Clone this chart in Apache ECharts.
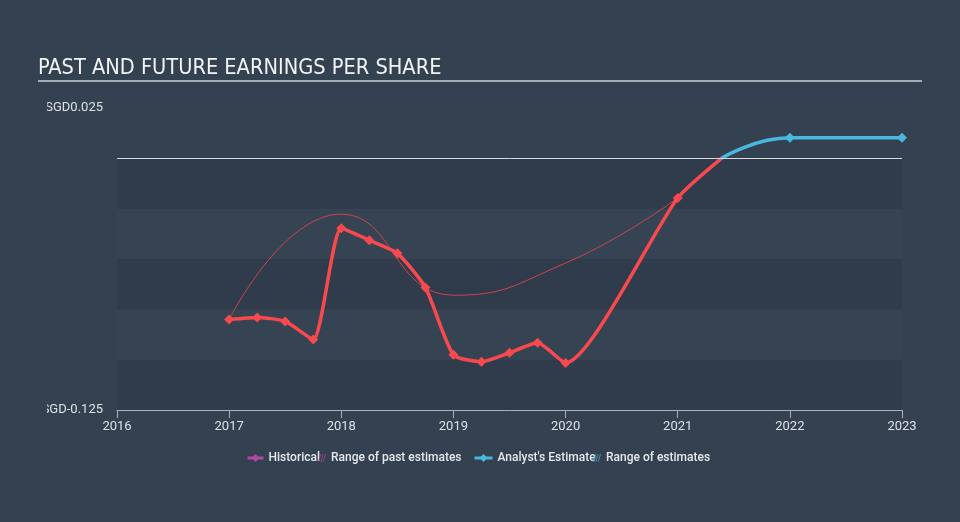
<!DOCTYPE html>
<html style="height: 100%">
<head>
    <meta charset="utf-8">
</head>
<body style="height: 100%; margin: 0; background: #344151;">
<div id="container" style="width: 960px; height: 522px;"></div>
<script type="text/javascript" src="https://cdn.jsdelivr.net/npm/echarts@6/dist/echarts.min.js"></script>
<script type="text/javascript">
// periods as decimal years
var histX = [2017, 2017.25, 2017.5, 2017.75, 2018, 2018.25, 2018.5, 2018.75, 2019, 2019.25, 2019.5, 2019.75, 2020, 2021, 2021.39];
var histY = [-0.080, -0.079, -0.081, -0.090, -0.0347, -0.0407, -0.0472, -0.0641, -0.0976, -0.101, -0.0966, -0.0916, -0.1016, -0.0197, 0.0];
var pastRangeX = [2017, 2018, 2019, 2020, 2021];
var pastRangeY = [-0.080, -0.0277, -0.068, -0.052, -0.0197];
var estX = [2021.39, 2022, 2023];
var estY = [0.0, 0.0102, 0.0102];
var yLabels = {'0.025': 'SGD0.025', '-0.125': 'SGD-0.125'};

var dom = document.getElementById("container");
var myChart = echarts.init(dom);

function pairs(xs, ys) {
    return xs.map(function (x, i) { return [x, ys[i]]; });
}

var histData = pairs(histX, histY).map(function (p, i) {
    // last point just joins the estimate line, no marker there
    return i === histX.length - 1 ? {value: p, symbol: 'none'} : p;
});
var estData = pairs(estX, estY).map(function (p, i) {
    return i === 0 ? {value: p, symbol: 'none'} : p;
});

var hatch = 'path://M0 10 L3 0 L4.2 0 L1.2 10 Z M3 10 L6 0 L7.2 0 L4.2 10 Z M6 10 L9 0 L10.2 0 L7.2 10 Z';
var legendText = {color: '#e6e9ec', fontSize: 12, fontFamily: 'Roboto', fontWeight: 500};
var bg = '#344151';

var option = {
    backgroundColor: bg,
    animation: false,
    title: {
        text: 'PAST AND FUTURE EARNINGS PER SHARE',
        left: 33,
        top: 52,
        textStyle: {color: '#f2f3f4', fontSize: 21.6, fontWeight: 'normal', fontFamily: "'DejaVu Sans Condensed', Roboto"}
    },
    graphic: [{
        type: 'rect',
        shape: {x: 38, y: 80, width: 884, height: 2},
        style: {fill: '#a4acb6'},
        silent: true
    }, {
        // the source crops the axis labels at the left
        type: 'rect',
        shape: {x: 0, y: 95, width: 47, height: 330},
        style: {fill: bg},
        silent: true,
        z: 100
    }],
    legend: [
        {left: 241, top: 447, itemWidth: 16, itemHeight: 10, textStyle: legendText,
         data: [{name: 'Historical', itemStyle: {color: '#b3479f'}, lineStyle: {color: '#b3479f', width: 3}}]},
        {left: 313, top: 447, itemWidth: 8, itemHeight: 9, textStyle: legendText,
         data: [{name: 'Range of past estimates', icon: hatch, itemStyle: {color: '#93408a'}}]},
        {left: 468, top: 447, itemWidth: 18, itemHeight: 10, textStyle: legendText,
         data: [{name: "Analyst's Estimate", itemStyle: {color: '#4ab7df'}, lineStyle: {color: '#4ab7df', width: 3}}]},
        {left: 588, top: 447, itemWidth: 8, itemHeight: 9, textStyle: legendText,
         data: [{name: 'Range of estimates', icon: hatch, itemStyle: {color: '#3f8fb5'}}]}
    ],
    grid: {left: 117, right: 58, top: 108, bottom: 112},
    xAxis: {
        type: 'value',
        min: 2016,
        max: 2023,
        interval: 1,
        axisLine: {onZero: false, lineStyle: {color: '#a9b2bc'}},
        axisTick: {show: true, length: 8, lineStyle: {color: '#a9b2bc'}},
        axisLabel: {color: '#dde1e5', fontSize: 13, margin: 10, fontFamily: 'Roboto',
            formatter: function (v) { return String(v); }},
        splitLine: {show: false}
    },
    yAxis: {
        type: 'value',
        min: -0.125,
        max: 0.025,
        interval: 0.025,
        axisLine: {show: false},
        axisTick: {show: false},
        axisLabel: {
            color: '#dde1e5', fontSize: 13, margin: 14, fontFamily: 'Roboto',
            formatter: function (v) {
                var k = (Math.round(v * 1000) / 1000).toString();
                return yLabels[k] || '';
            }
        },
        splitLine: {show: false},
        splitArea: {
            show: true,
            areaStyle: {color: ['#303c4c', '#364353', '#303c4c', '#364353', '#303c4c', 'rgba(0,0,0,0)']}
        }
    },
    series: [
        {
            name: 'Range of past estimates',
            type: 'line',
            data: pairs(pastRangeX, pastRangeY),
            smooth: 0.5,
            symbol: 'none',
            lineStyle: {color: '#d0444a', width: 1},
            itemStyle: {color: '#d0444a'},
            z: 2
        },
        {
            name: 'Historical',
            type: 'line',
            data: histData,
            smooth: 0.2,
            symbol: 'diamond',
            symbolSize: 10,
            lineStyle: {color: '#f8494e', width: 3.5},
            itemStyle: {color: '#f8494e'},
            markLine: {
                silent: true,
                symbol: 'none',
                label: {show: false},
                lineStyle: {color: '#d6dbe0', width: 1, type: 'solid'},
                data: [{yAxis: 0}]
            },
            z: 3
        },
        {
            name: "Analyst's Estimate",
            type: 'line',
            data: estData,
            smooth: 0.5,
            symbol: 'diamond',
            symbolSize: 10,
            lineStyle: {color: '#4ab7df', width: 3.5},
            itemStyle: {color: '#4ab7df'},
            z: 4
        },
        {
            name: 'Range of estimates',
            type: 'line',
            data: [],
            itemStyle: {color: '#3f8fb5'}
        }
    ]
};

myChart.setOption(option, true);
</script>
</body>
</html>
